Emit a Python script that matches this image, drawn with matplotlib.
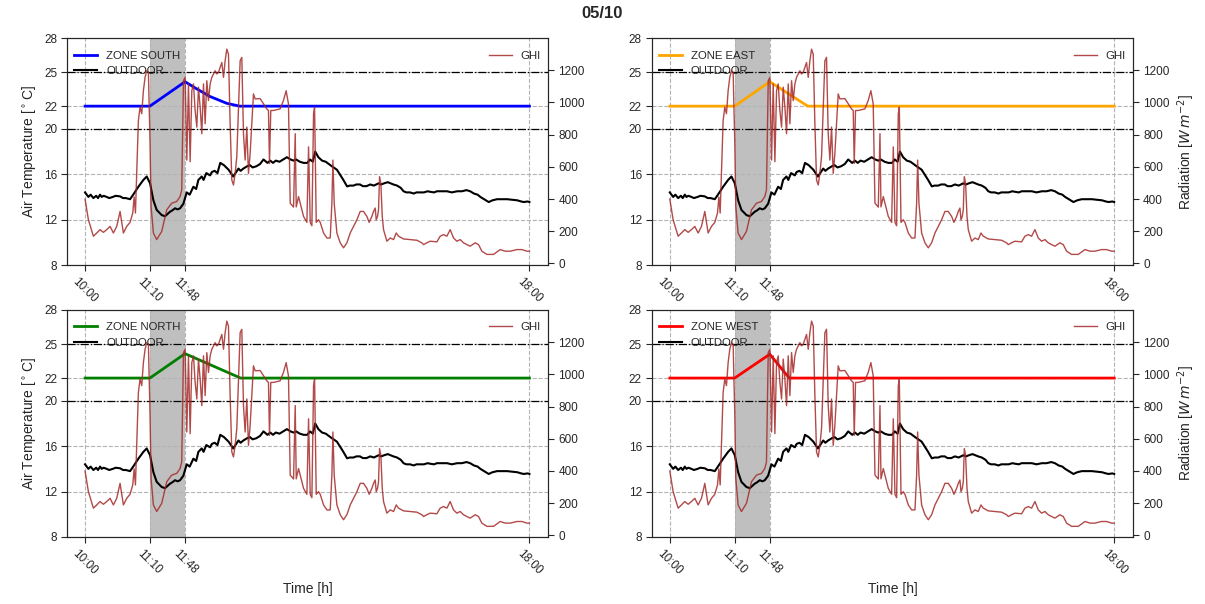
import matplotlib
matplotlib.use("Agg")
import matplotlib.pyplot as plt

plt.rcParams['font.family'] = ['Liberation Sans', 'DejaVu Sans']
plt.rcParams['text.color'] = '.15'
plt.rcParams['axes.labelcolor'] = '.15'
plt.rcParams['xtick.color'] = '.15'
plt.rcParams['ytick.color'] = '.15'
plt.rcParams['axes.edgecolor'] = '.15'
plt.rcParams['mathtext.default'] = 'it'

# time axis: minutes after 10:00
tick_min = [0, 70, 108, 480]
tick_lbl = ['10:00', '11:10', '11:48', '18:00']
span_start, span_end = 70, 108

# global horizontal irradiance [W/m2]
ghi_min = [0, 3.6, 9, 12.6, 16.2, 19.8, 23.4, 27, 30.6, 34.2, 37.8, 41.4, 45, 48.6,
           51.5, 53, 54.4, 55.8, 57.6, 59.4, 61.2, 63, 64.8, 66.6, 68.4, 70.2, 71.3,
           73.8, 77.4, 82.8, 88.2, 93.6, 99, 102.6, 104.4, 106.3, 108.1, 109.9, 111.7,
           113.5, 115.3, 117.1, 118.9, 120.7, 122.5, 124.3, 126.1, 127.9, 129.7, 131.5,
           133.3, 135.1, 136.9, 138.7, 140.5, 142.3, 144.1, 145.9, 147.7, 149.5, 151.3,
           153.1, 154.9, 156.7, 158.5, 160.3, 162.1, 163.9, 165.7, 167.5, 169.3, 171.1,
           172.9, 174.7, 176.5, 178.3, 181.9, 183.7, 189.1, 196.3, 198.1, 199.2, 200.6,
           203.5, 210.7, 214.3, 217.2, 219.7, 221.6, 225.2, 227, 228.1, 230.6, 234.2,
           236, 239.6, 241.4, 243.2, 245, 246.8, 247.9, 249.7, 252.2, 254, 257.6, 261.2,
           264.8, 266.6, 267.7, 269.1, 272, 275.6, 279.2, 282.8, 286.4, 290, 293.6,
           297.2, 300.8, 304.4, 306.9, 309.8, 311.6, 313.4, 314.5, 315.9, 317, 318.1,
           319.5, 321, 322.4, 326, 329.6, 333.2, 336.1, 338.6, 344, 351.2, 358.4, 363.8,
           365.6, 369.2, 372.8, 380, 383.6, 387.2, 390.8, 394.4, 398, 401.6, 405.2,
           408.8, 412.4, 416, 421.4, 425, 428.6, 434, 441.2, 448.4, 453.8, 459.2, 466.4,
           471.8, 477.2, 480]
ghi_val = [399, 271, 169, 189, 210, 193, 210, 230, 189, 230, 323, 189, 230, 255,
           313, 413, 313, 559, 888, 971, 930, 1073, 1156, 1197, 1187, 744, 354,
           189, 148, 199, 333, 374, 385, 415, 456, 1135, 1156, 642, 1115,
           632, 1073, 1115, 950, 847, 1095, 971, 806, 1115, 868, 1135,
           1012, 1115, 1156, 1177, 1197, 1177, 1187, 1218, 1248, 1156, 1259,
           1331, 1300, 868, 518, 487, 559, 663, 971, 1259, 1280, 806,
           642, 847, 559, 683, 1053, 1022, 1024, 960, 950, 621, 950,
           950, 960, 1012, 1073, 991, 374, 350, 806, 351, 415, 333,
           292, 255, 724, 255, 234, 930, 971, 255, 271, 255, 189, 158,
           158, 374, 642, 374, 189, 128, 97, 128, 189, 230, 271,
           323, 323, 292, 255, 292, 323, 344, 271, 292, 333, 539,
           498, 292, 210, 138, 158, 148, 189, 169, 152, 148, 144, 128,
           117, 128, 138, 134, 169, 179, 169, 210, 158, 138, 148,
           128, 117, 107, 128, 117, 76, 56, 56, 86, 76, 76, 86,
           86, 76, 76]

# outdoor air temperature [C]
out_min = [0, 3.6, 6, 9, 12, 14, 16.2, 18, 20, 23.4, 26, 30, 33, 37.8, 41, 44, 48.6,
           52, 57.6, 63, 66.6, 70.2, 73.8, 77.4, 82.8, 86.4, 91.8, 94, 97.2, 100,
           102.6, 106.2, 109.8, 113, 117, 120, 122.4, 126, 128, 131, 135, 137, 140,
           143, 146, 150, 155, 160, 165.7, 168, 171, 175, 178, 181, 185, 189, 192.7,
           197, 200, 203, 206, 210, 214, 218, 222, 225, 228, 232, 236, 240, 243, 246,
           248.6, 252, 256, 260, 266.6, 272, 279, 283, 286, 290, 293, 297, 300, 304,
           308, 312, 317, 320, 323, 327, 330, 333, 337, 341, 344, 347, 351, 355, 358,
           362, 366, 370, 373, 377, 380, 385, 391, 396, 402, 407, 412, 416, 420, 424,
           427, 431, 436, 440, 445, 450, 456, 462, 467, 471, 474, 478, 480]
out_val = [14.4, 14.0, 14.2, 13.9, 14.1, 13.9, 14.2, 14.0, 14.1, 14.0, 13.9, 14.0, 14.1,
           14.05, 13.9, 13.9, 13.8, 14.2, 14.9, 15.5, 15.8, 15.2, 13.7, 12.85, 12.4,
           12.3, 12.7, 12.8, 13.0, 12.9, 13.0, 13.4, 14.4, 14.2, 14.9, 14.7, 15.5,
           15.8, 15.5, 16.1, 15.9, 16.2, 16.3, 16.1, 17.0, 16.8, 16.4, 15.8, 16.5,
           16.3, 16.5, 16.7, 16.8, 16.6, 16.7, 16.9, 17.3, 17.0, 17.2, 17.0, 17.2, 17.1,
           17.3, 17.5, 17.3, 17.2, 17.3, 17.1, 17.0, 17.0, 17.3, 17.1, 18.0, 17.5,
           17.2, 17.1, 16.7, 16.4, 15.5, 14.93, 15.0, 15.0, 15.1, 15.1, 14.95, 14.95,
           15.1, 15.0, 15.2, 15.1, 15.2, 15.3, 15.2, 15.1, 15.0, 14.8, 14.5, 14.4, 14.4,
           14.3, 14.4, 14.4, 14.4, 14.5, 14.45, 14.4, 14.5, 14.5, 14.5, 14.4, 14.5,
           14.5, 14.6, 14.5, 14.3, 14.2, 14.0, 13.8, 13.55, 13.7, 13.8, 13.8, 13.8,
           13.75, 13.7, 13.6, 13.55, 13.6, 13.55]

# indoor zone temperatures [C]
zones = ['ZONE SOUTH', 'ZONE EAST', 'ZONE NORTH', 'ZONE WEST']
zone_colors = ['blue', 'orange', 'green', 'red']
south_min = [0, 70, 108, 120, 135, 153, 167, 480]
south_val = [22, 22, 24.15, 23.55, 22.85, 22.25, 22.0, 22.0]
east_min = [0, 70, 108, 149, 480]
east_val = [22, 22, 24.15, 22.0, 22.0]
north_min = [0, 70, 108, 168, 480]
north_val = [22, 22, 24.15, 22.0, 22.0]
west_min = [0, 70, 108, 129, 480]
west_val = [22, 22, 24.1, 22.0, 22.0]
zone_series = [(south_min, south_val), (east_min, east_val),
               (north_min, north_val), (west_min, west_val)]

comfort_lo, comfort_hi = 20, 25
temp_ticks = [8, 12, 16, 20, 22, 25, 28]
rad_ticks = [0, 200, 400, 600, 800, 1000, 1200]

fig, axes = plt.subplots(2, 2, figsize=(12.05, 6.04), dpi=100)
fig.subplots_adjust(left=0.056, right=0.94, top=0.937, bottom=0.111,
                    wspace=0.217, hspace=0.198)

for k, ax in enumerate(axes.flat):
    row, col = divmod(k, 2)
    zx, zy = zone_series[k]

    ax.axvspan(span_start, span_end, color='gray', alpha=0.5, lw=0)
    ax.axhline(comfort_lo, color='k', ls='-.', lw=0.9)
    ax.axhline(comfort_hi, color='k', ls='-.', lw=0.9)
    ax.plot(zx, zy, color=zone_colors[k], lw=2, label=zones[k], zorder=3)
    ax.plot(out_min, out_val, color='k', lw=1.5, label='OUTDOOR', zorder=3)

    ax.set_xlim(-19, 500)
    ax.set_ylim(8, 28)
    ax.set_yticks(temp_ticks)
    ax.set_xticks(tick_min)
    ax.set_xticklabels(tick_lbl, rotation=-45, ha='center')
    ax.grid(True, ls='--', color='0.7', lw=0.8)
    ax.tick_params(labelsize=8.5, length=4)
    ax.legend(loc='upper left', bbox_to_anchor=(0.0, 0.975), frameon=False,
              fontsize=8.2, borderaxespad=0.2)

    ax2 = ax.twinx()
    ax2.plot(ghi_min, ghi_val, color='brown', lw=1, alpha=0.85, label='GHI')
    ax2.set_ylim(-10, 1400)
    ax2.set_yticks(rad_ticks)
    ax2.tick_params(labelsize=8.5, length=4)
    ax2.legend(loc='upper right', bbox_to_anchor=(1.0, 0.975), frameon=False,
               fontsize=8.2, borderaxespad=0.2)

    if col == 0:
        ax.set_ylabel('Air Temperature [$^\\circ$C]', fontsize=10)
    else:
        ax2.set_ylabel('Radiation [$W\\,m^{-2}$]', fontsize=10)
    if row == 1:
        ax.set_xlabel('Time [h]', fontsize=10)

fig.suptitle('05/10', fontsize=12, fontweight='bold', y=0.99)
fig.savefig('out.png', dpi=100, facecolor='white')
